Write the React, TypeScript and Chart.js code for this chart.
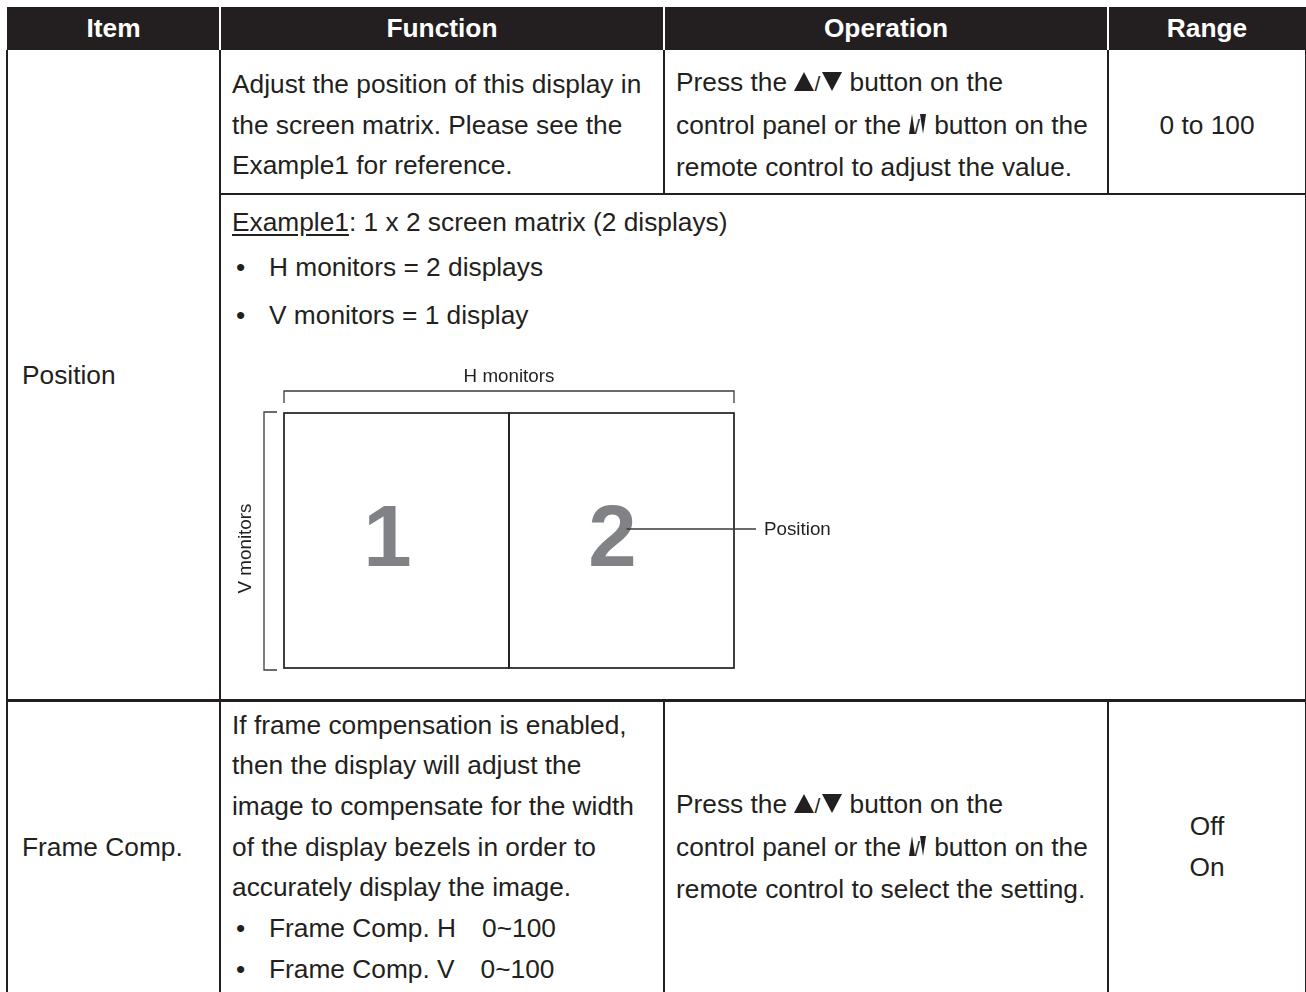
import React, { useEffect, useRef } from "react";
import { Chart, registerables } from "chart.js";

Chart.register(...registerables);

const FONT = '"Liberation Sans", Arial, Helvetica, sans-serif';
const INK = "#231f20";
const DIGIT_GREY = "#808285";

// ---- table content ----
const headerLabels = ["Item", "Function", "Operation", "Range"];
const itemLabels = ["Position", "Frame Comp."];
const positionFunctionLines = [
  "Adjust the position of this display in",
  "the screen matrix. Please see the",
  "Example1 for reference.",
];
const positionOperationLines = [
  "Press the {UD} button on the",
  "control panel or the {ud} button on the",
  "remote control to adjust the value.",
];
const positionRangeLines = ["0 to 100"];
const exampleTitle = "Example1";
const exampleRest = ": 1 x 2 screen matrix (2 displays)";
const exampleBullets = ["H monitors = 2 displays", "V monitors = 1 display"];
const frameFunctionLines = [
  "If frame compensation is enabled,",
  "then the display will adjust the",
  "image to compensate for the width",
  "of the display bezels in order to",
  "accurately display the image.",
];
const frameBullets = [
  ["Frame Comp. H", "0~100"],
  ["Frame Comp. V", "0~100"],
];
const frameOperationLines = [
  "Press the {UD} button on the",
  "control panel or the {ud} button on the",
  "remote control to select the setting.",
];
const frameRangeLines = ["Off", "On"];

// ---- diagram data (1 x 2 screen matrix) ----
const matrixCells = ["1", "2"];
const matrixFill = [1, 1];
const hAxisLabel = "H monitors";
const vAxisLabel = "V monitors";
const pointerLabel = "Position";

const FS = 26.3;
const LH = 40.7;

function Tri({ up, w, h }: { up: boolean; w: number; h: number }) {
  const st: React.CSSProperties = {
    display: "inline-block",
    width: 0,
    height: 0,
    borderLeft: `${w / 2}px solid transparent`,
    borderRight: `${w / 2}px solid transparent`,
    verticalAlign: "baseline",
  };
  if (up) st.borderBottom = `${h}px solid ${INK}`;
  else st.borderTop = `${h}px solid ${INK}`;
  return <span style={st} />;
}

function Glyphs({ kind }: { kind: string }) {
  if (kind === "UD") {
    return (
      <span style={{ whiteSpace: "nowrap" }}>
        <Tri up w={21} h={19} />
        <span style={{ fontSize: FS * 0.8, margin: "0 2px 0 0px" }}>/</span>
        <Tri up={false} w={21} h={19} />
      </span>
    );
  }
  return (
    <span style={{ whiteSpace: "nowrap", margin: "0 1px 0 1px" }}>
      <Tri up w={7} h={20} />
      <span style={{ fontSize: FS * 0.75, margin: "0 0 0 -1px" }}>/</span>
      <Tri up={false} w={7} h={20} />
    </span>
  );
}

function RichLine({ text }: { text: string }) {
  const parts = text.split(/(\{UD\}|\{ud\})/);
  return (
    <>
      {parts.map((p, i) =>
        p === "{UD}" ? (
          <Glyphs key={i} kind="UD" />
        ) : p === "{ud}" ? (
          <Glyphs key={i} kind="ud" />
        ) : (
          <span key={i}>{p}</span>
        )
      )}
    </>
  );
}

function Line({ x, y, w, h, c = INK }: { x: number; y: number; w: number; h: number; c?: string }) {
  return <div style={{ position: "absolute", left: x, top: y, width: w, height: h, background: c }} />;
}

function Cell({
  x,
  y,
  w,
  h,
  align = "left",
  pad = 12,
  children,
}: {
  x: number;
  y: number;
  w: number;
  h: number;
  align?: "left" | "center";
  pad?: number;
  children: React.ReactNode;
}) {
  return (
    <div
      style={{
        position: "absolute",
        left: x,
        top: y,
        width: w,
        height: h,
        display: "flex",
        flexDirection: "column",
        justifyContent: "center",
        alignItems: align === "center" ? "center" : "flex-start",
        paddingLeft: align === "center" ? 0 : pad,
        boxSizing: "border-box",
        fontSize: FS,
        lineHeight: `${LH}px`,
        color: INK,
        whiteSpace: "pre",
      }}
    >
      {children}
    </div>
  );
}

const matrixDecor = {
  id: "matrixDecor",
  afterDatasetsDraw(chart: any) {
    const ctx = chart.ctx as CanvasRenderingContext2D;
    const { left, right, top, bottom } = chart.chartArea;
    const meta = chart.getDatasetMeta(0);
    ctx.save();
    // monitor frames and numbers
    meta.data.forEach((el: any) => {
      const p = el.getProps(["x", "y", "base", "width"], true);
      ctx.strokeStyle = INK;
      ctx.lineWidth = 1.7;
      ctx.strokeRect(p.x - p.width / 2, p.y, p.width, p.base - p.y);
    });
    meta.data.forEach((el: any, i: number) => {
      const p = el.getProps(["x", "y", "base", "width"], true);
      ctx.fillStyle = DIGIT_GREY;
      ctx.font = `bold 87px ${FONT}`;
      ctx.textAlign = "center";
      ctx.textBaseline = "alphabetic";
      ctx.fillText(matrixCells[i], p.x - 9, (p.y + p.base) / 2 + 25);
    });
    // H bracket
    ctx.strokeStyle = "#3b3b3b";
    ctx.lineWidth = 1.3;
    ctx.beginPath();
    ctx.moveTo(left, top - 10);
    ctx.lineTo(left, top - 22);
    ctx.lineTo(right, top - 22);
    ctx.lineTo(right, top - 10);
    ctx.stroke();
    // V bracket
    ctx.beginPath();
    ctx.moveTo(left - 7, top - 1);
    ctx.lineTo(left - 20, top - 1);
    ctx.lineTo(left - 20, bottom + 2);
    ctx.lineTo(left - 7, bottom + 2);
    ctx.stroke();
    // labels
    ctx.fillStyle = INK;
    ctx.font = `18.8px ${FONT}`;
    ctx.textAlign = "center";
    ctx.textBaseline = "middle";
    ctx.fillText(hAxisLabel, (left + right) / 2, top - 36);
    ctx.save();
    ctx.translate(left - 38, (top + bottom) / 2 + 8);
    ctx.rotate(-Math.PI / 2);
    ctx.fillText(vAxisLabel, 0, 0);
    ctx.restore();
    // pointer to position
    const last = meta.data[meta.data.length - 1].getProps(["x"], true);
    const py = top + 116;
    ctx.strokeStyle = "#3b3b3b";
    ctx.lineWidth = 1.3;
    ctx.beginPath();
    ctx.moveTo(last.x + 5, py);
    ctx.lineTo(right + 22, py);
    ctx.stroke();
    ctx.textAlign = "left";
    ctx.fillText(pointerLabel, right + 30, py + 1);
    ctx.restore();
  },
};

function MatrixDiagram() {
  const ref = useRef<HTMLCanvasElement | null>(null);
  useEffect(() => {
    if (!ref.current) return;
    const chart = new Chart(ref.current, {
      type: "bar",
      data: {
        labels: matrixCells,
        datasets: [
          {
            data: matrixFill,
            backgroundColor: "#ffffff",
            borderWidth: 0,
            barPercentage: 1,
            categoryPercentage: 1,
          },
        ],
      },
      options: {
        responsive: false,
        animation: false,
        devicePixelRatio: 1,
        layout: { padding: { left: 54, top: 63, right: 136, bottom: 22 } },
        plugins: { legend: { display: false }, tooltip: { enabled: false } },
        scales: {
          x: { display: false, offset: true },
          y: { display: false, min: 0, max: 1 },
        },
      },
      plugins: [matrixDecor],
    });
    return () => chart.destroy();
  }, []);
  return (
    <canvas
      ref={ref}
      width={640}
      height={340}
      style={{ position: "absolute", left: 230, top: 350, width: 640, height: 340 }}
    />
  );
}

function BulletLine({ children }: { children: React.ReactNode }) {
  return (
    <div style={{ whiteSpace: "pre" }}>
      <span style={{ display: "inline-block", width: 33, marginLeft: 4 }}>•</span>
      {children}
    </div>
  );
}

export default function App() {
  const cols = [7, 220, 664, 1108, 1306];
  return (
    <div
      style={{
        position: "absolute",
        left: 0,
        top: 0,
        width: 1306,
        height: 992,
        overflow: "hidden",
        background: "#ffffff",
        fontFamily: FONT,
      }}
    >
      {/* header */}
      <Line x={7} y={7} w={1299} h={43} />
      {headerLabels.map((h, i) => (
        <div
          key={h}
          style={{
            position: "absolute",
            left: cols[i],
            top: 7,
            width: cols[i + 1] - cols[i],
            height: 43,
            display: "flex",
            alignItems: "center",
            justifyContent: "center",
            color: "#ffffff",
            fontWeight: "bold",
            fontSize: FS,
          }}
        >
          {h}
        </div>
      ))}
      {[220, 664, 1108].map((x) => (
        <Line key={x} x={x - 1} y={7} w={2} h={43} c="#ffffff" />
      ))}

      {/* grid lines */}
      <Line x={6} y={50} w={2} h={950} />
      <Line x={1304.5} y={50} w={1.3} h={950} />
      <Line x={219} y={50} w={2} h={950} />
      <Line x={663} y={50} w={2} h={144} />
      <Line x={1107} y={50} w={2} h={144} />
      <Line x={663} y={700} w={2} h={300} />
      <Line x={1107} y={700} w={2} h={300} />
      <Line x={220} y={193} w={1086} h={2} />
      <Line x={6} y={698.5} w={1300} h={3} />

      {/* Item column */}
      <Cell x={8} y={50} w={212} h={650} pad={14}>
        <div>{itemLabels[0]}</div>
      </Cell>
      <Cell x={8} y={701} w={212} h={292} pad={14}>
        <div>{itemLabels[1]}</div>
      </Cell>

      {/* Position row */}
      <Cell x={220} y={52} w={444} h={146}>
        {positionFunctionLines.map((l) => (
          <div key={l}>{l}</div>
        ))}
      </Cell>
      <Cell x={664} y={52} w={444} h={146}>
        {positionOperationLines.map((l) => (
          <div key={l}>
            <RichLine text={l} />
          </div>
        ))}
      </Cell>
      <Cell x={1108} y={52} w={198} h={146} align="center">
        {positionRangeLines.map((l) => (
          <div key={l}>{l}</div>
        ))}
      </Cell>

      {/* Example */}
      <div
        style={{
          position: "absolute",
          left: 232,
          top: 202,
          fontSize: FS,
          lineHeight: `${LH}px`,
          color: INK,
          whiteSpace: "pre",
        }}
      >
        <span style={{ textDecoration: "underline", textUnderlineOffset: 3 }}>{exampleTitle}</span>
        {exampleRest}
      </div>
      {exampleBullets.map((b, i) => (
        <div
          key={b}
          style={{
            position: "absolute",
            left: 232,
            top: 247 + i * 48,
            fontSize: FS,
            lineHeight: `${LH}px`,
            color: INK,
          }}
        >
          <BulletLine>{b}</BulletLine>
        </div>
      ))}
      <MatrixDiagram />

      {/* Frame Comp row */}
      <Cell x={220} y={701} w={444} h={292}>
        {frameFunctionLines.map((l) => (
          <div key={l}>{l}</div>
        ))}
        {frameBullets.map(([a, b]) => (
          <BulletLine key={a}>
            {a}
            <span style={{ marginLeft: 26 }}>{b}</span>
          </BulletLine>
        ))}
      </Cell>
      <Cell x={664} y={701} w={444} h={292}>
        {frameOperationLines.map((l) => (
          <div key={l}>
            <RichLine text={l} />
          </div>
        ))}
      </Cell>
      <Cell x={1108} y={701} w={198} h={292} align="center">
        {frameRangeLines.map((l) => (
          <div key={l}>{l}</div>
        ))}
      </Cell>
    </div>
  );
}
